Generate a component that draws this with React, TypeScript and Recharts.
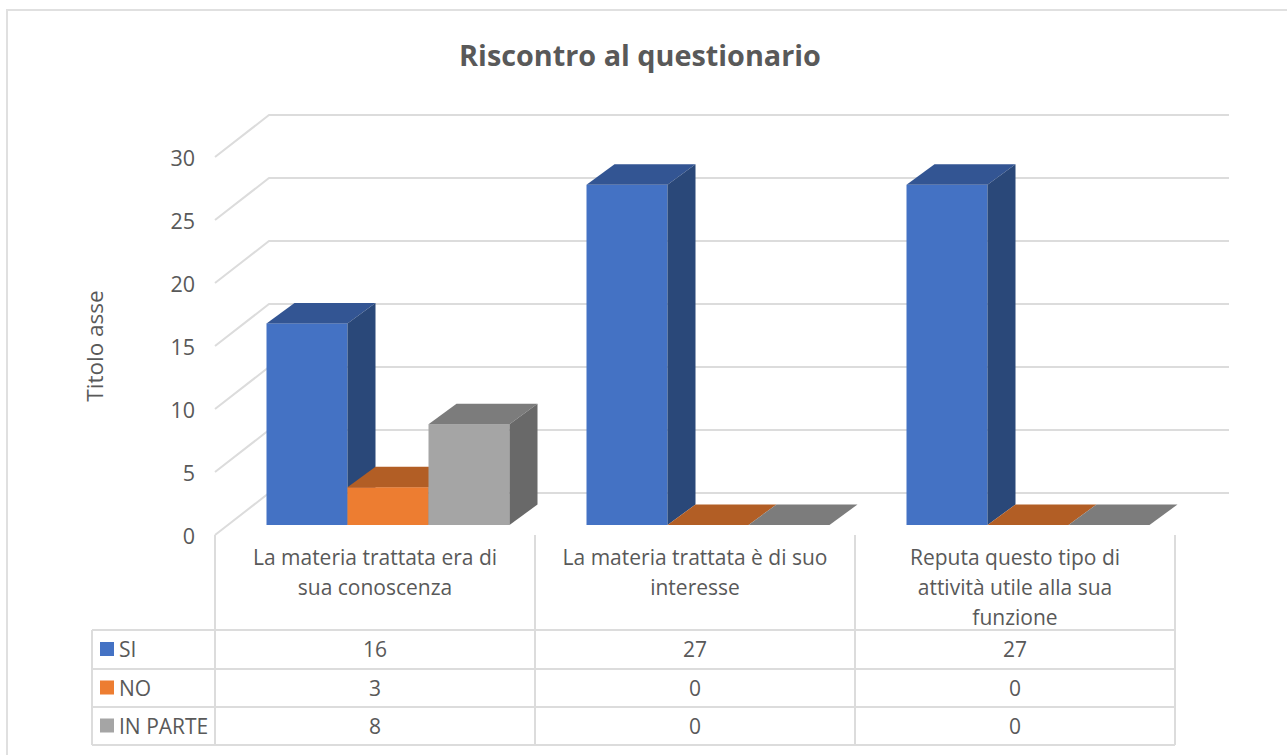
import React from "react";
import { BarChart, Bar, XAxis, YAxis, CartesianGrid, Label } from "recharts";

const title = "Riscontro al questionario";
const axisTitle = "Titolo asse";
const categories = [
  "La materia trattata era di sua conoscenza",
  "La materia trattata è di suo interesse",
  "Reputa questo tipo di attività utile alla sua funzione",
];
const categoryLines = [
  ["La materia trattata era di", "sua conoscenza"],
  ["La materia trattata è di suo", "interesse"],
  ["Reputa questo tipo di", "attività utile alla sua", "funzione"],
];
const si = [16, 27, 27];
const no = [3, 0, 0];
const inParte = [8, 0, 0];
const yTicks = [0, 5, 10, 15, 20, 25, 30];

const seriesList = [
  { key: "SI", values: si, front: "#4472C4", top: "#335593", side: "#2A4879" },
  { key: "NO", values: no, front: "#ED7D31", top: "#B25E25", side: "#8E4B1D" },
  { key: "IN PARTE", values: inParte, front: "#A5A5A5", top: "#7C7C7C", side: "#696969" },
];

const rows = categories.map((name, i) => ({
  name,
  SI: si[i],
  NO: no[i],
  "IN PARTE": inParte[i],
}));

const FONT = "'Open Sans', sans-serif";
const TEXT = "#595959";
const LINE = "#DCDCDC";
const W = 1287;
const H = 755;
const WALL_DX = 54;
const WALL_DY = 42;
const BAR_SHIFT_X = 12.5;
const BAR_SHIFT_Y = 10;
const BAR_DX = 28;
const BAR_DY = 20.5;
const TABLE_ROWS = [630, 669, 707, 745];
const TABLE_LEFT = 92;
const AXIS_Y = 535;
const LINE_W = 2;

function Box(props: any) {
  const { x, y, width, height, front, top, side } = props;
  const l = x + BAR_SHIFT_X;
  const r = l + width;
  const t = y - BAR_SHIFT_Y;
  const b = t + height;
  return (
    <g>
      {height > 0 && <rect x={l} y={t} width={width} height={height} fill={front} />}
      <path d={`M${l},${t}L${l + BAR_DX},${t - BAR_DY}L${r + BAR_DX},${t - BAR_DY}L${r},${t}Z`} fill={top} />
      {height > 0 && (
        <path d={`M${r},${t}L${r + BAR_DX},${t - BAR_DY}L${r + BAR_DX},${b - BAR_DY}L${r},${b}Z`} fill={side} />
      )}
    </g>
  );
}

function GridLine(props: any) {
  const { x1, x2, y1 } = props;
  return (
    <path
      d={`M${x1},${y1}L${x1 + WALL_DX},${y1 - WALL_DY}L${x2 + WALL_DX},${y1 - WALL_DY}`}
      fill="none"
      stroke={LINE}
      strokeWidth={LINE_W}
    />
  );
}

function TableTick(props: any) {
  const { x, index } = props;
  const half = 160;
  const left = x - half;
  const right = x + half;
  const rowCenters = [649, 687.5, 725.5];
  return (
    <g fontFamily={FONT} fontSize={21} fill={TEXT}>
      {index === 0 && (
        <g>
          <line x1={left} y1={AXIS_Y} x2={left} y2={TABLE_ROWS[3]} stroke={LINE} strokeWidth={LINE_W} />
          <line x1={TABLE_LEFT} y1={TABLE_ROWS[0]} x2={TABLE_LEFT} y2={TABLE_ROWS[3]} stroke={LINE} strokeWidth={LINE_W} />
          {TABLE_ROWS.map((ry) => (
            <line key={ry} x1={TABLE_LEFT} y1={ry} x2={left + 960} y2={ry} stroke={LINE} strokeWidth={LINE_W} />
          ))}
          {seriesList.map((s, i) => (
            <g key={s.key}>
              <rect x={100} y={rowCenters[i] - 7} width={14} height={14} fill={s.front} />
              <text x={119} y={rowCenters[i]} dominantBaseline="central" stroke="none" fill={TEXT}>
                {s.key}
              </text>
            </g>
          ))}
        </g>
      )}
      <line x1={right} y1={AXIS_Y} x2={right} y2={TABLE_ROWS[3]} stroke={LINE} strokeWidth={LINE_W} />
      {categoryLines[index].map((ln, i) => (
        <text key={i} x={x} y={557 + i * 30} textAnchor="middle" dominantBaseline="central" fill={TEXT}>
          {ln}
        </text>
      ))}
      {seriesList.map((s, i) => (
        <text key={s.key} x={x} y={rowCenters[i]} textAnchor="middle" dominantBaseline="central" fill={TEXT}>
          {s.values[index]}
        </text>
      ))}
    </g>
  );
}

function YTick(props: any) {
  const { x, y, payload } = props;
  return (
    <text x={x + 1} y={y + 0.5} textAnchor="end" dominantBaseline="central" fill={TEXT} fontSize={21.5} fontFamily={FONT}>
      {payload.value}
    </text>
  );
}

export default function App() {
  return (
    <div style={{ position: "absolute", left: 0, top: 0, width: W, height: H, background: "#fff", overflow: "hidden" }}>
      <div style={{ position: "absolute", left: 6, top: 9, width: 1400, height: 900, borderLeft: "2px solid #E0E0E0", borderTop: "2px solid #E0E0E0", boxSizing: "border-box" }} />
      <div
        style={{
          position: "absolute",
          left: 0,
          width: 1280,
          top: 35,
          textAlign: "center",
          fontFamily: FONT,
          fontWeight: 700,
          fontSize: 28.8,
          lineHeight: "40px",
          color: TEXT,
        }}
      >
        {title}
      </div>
      <div style={{ position: "absolute", left: 0, top: 0 }}>
        <BarChart
          width={W}
          height={H}
          data={rows}
          barSize={81}
          barGap={0}
          margin={{ left: 65, right: 112, top: 157, bottom: 0 }}
          style={{ fontFamily: FONT }}
        >
          <CartesianGrid horizontal={(p: any) => <GridLine key={p.key} {...p} />} vertical={false} />
          <XAxis dataKey="name" axisLine={false} tickLine={false} height={220} tick={<TableTick />} interval={0} />
          <YAxis
            width={150}
            domain={[0, 30]}
            ticks={yTicks}
            axisLine={false}
            tickLine={false}
            tickMargin={15}
            tick={<YTick />}
          >
            <Label
              value={axisTitle}
              angle={-90}
              position="insideLeft"
              offset={30}
              style={{ fill: TEXT, fontSize: 22.5, fontFamily: FONT, textAnchor: "middle" }}
            />
          </YAxis>
          {seriesList.map((s) => (
            <Bar
              key={s.key}
              dataKey={s.key}
              fill={s.front}
              isAnimationActive={false}
              shape={(p: any) => <Box {...p} front={s.front} top={s.top} side={s.side} />}
            />
          ))}
        </BarChart>
      </div>
    </div>
  );
}
